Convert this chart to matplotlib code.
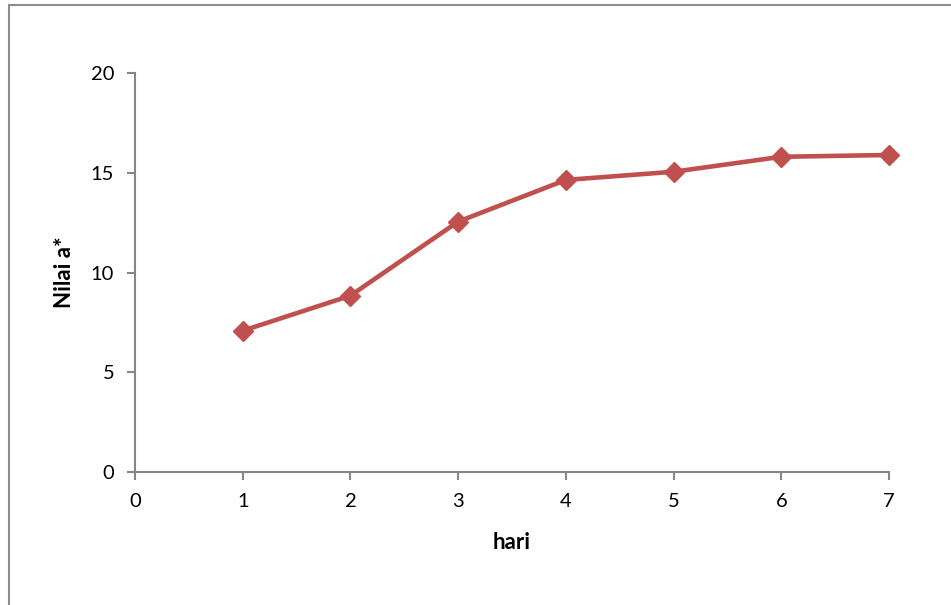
import matplotlib
matplotlib.use("Agg")
import matplotlib.pyplot as plt
from matplotlib.patches import Rectangle

plt.rcParams['font.family'] = ['Lato', 'DejaVu Sans']

hari = [1, 2, 3, 4, 5, 6, 7]
nilai_a = [7.08, 8.84, 12.55, 14.64, 15.05, 15.80, 15.89]
x_ticks = [0, 1, 2, 3, 4, 5, 6, 7]
y_ticks = [0, 5, 10, 15, 20]

fig = plt.figure(figsize=(9.51, 6.05), dpi=100)
fig.patch.set_facecolor('white')

# chart-area frame
fig.add_artist(Rectangle((9 / 951, -0.01), 1.0, 1 - 5.5 / 605 + 0.01,
                         transform=fig.transFigure, fill=False,
                         edgecolor='#8c8c8c', linewidth=1.5))

ax = fig.add_axes([135 / 951, 1 - 472 / 605, (889 - 135) / 951, (472 - 73) / 605])
ax.plot(hari, nilai_a, color='#C0504D', linewidth=3.3, marker='D',
        markersize=10, markerfacecolor='#C0504D', markeredgecolor='#C0504D',
        clip_on=False, zorder=3)

ax.set_xlim(0, 7)
ax.set_ylim(0, 20)
ax.set_xticks(x_ticks)
ax.set_yticks(y_ticks)

for side in ('top', 'right'):
    ax.spines[side].set_visible(False)
for side in ('left', 'bottom'):
    ax.spines[side].set_color('#868686')
    ax.spines[side].set_linewidth(1.5)

ax.tick_params(axis='both', direction='out', color='#868686', width=1.5,
               length=6, labelsize=14.5, labelcolor='black')
ax.tick_params(axis='y', pad=9)
ax.tick_params(axis='x', pad=9)

ax.set_xlabel('hari', fontsize=16, fontweight='bold', labelpad=16)
ax.set_ylabel('Nilai a*', fontsize=16, fontweight='bold', labelpad=11)

fig.savefig('out.png', dpi=100, facecolor='white')
